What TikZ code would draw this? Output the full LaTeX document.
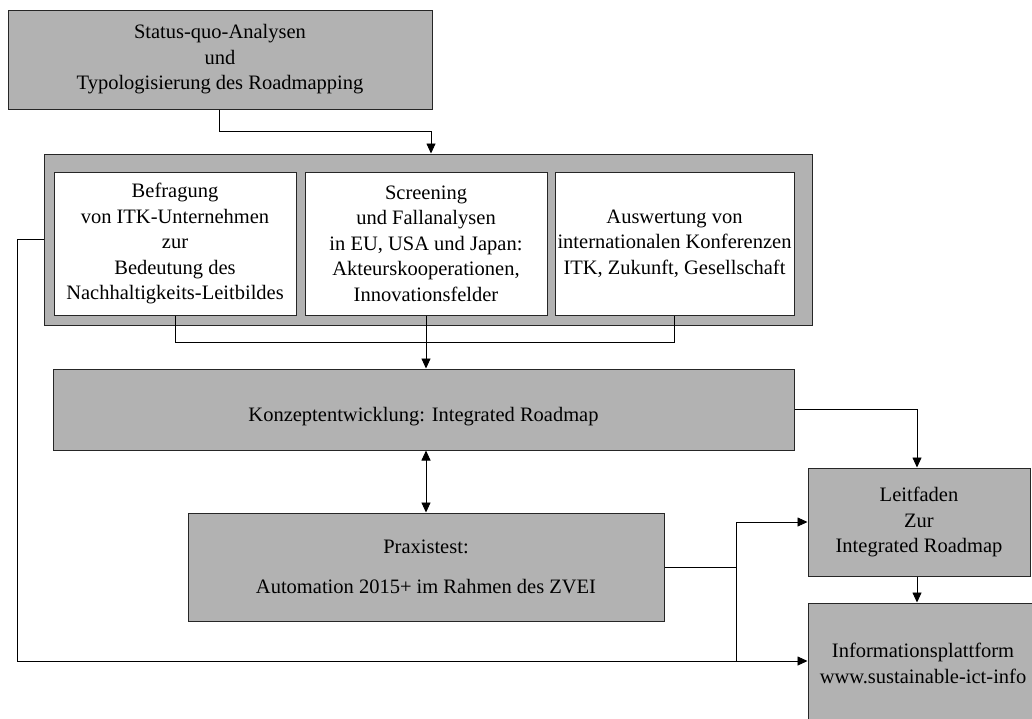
\documentclass[tikz,border=0pt]{standalone}
\usepackage{fontspec}
\setmainfont{Liberation Serif}
\usetikzlibrary{arrows.meta}
\definecolor{boxgray}{RGB}{178,178,178}
\begin{document}
\begin{tikzpicture}[x=1pt,y=-1pt,
  box/.style={draw=black!85, line width=1pt, fill=boxgray, align=center, inner sep=0pt,
    font=\fontsize{20.5}{25.5}\selectfont},
  wbox/.style={box, fill=white},
  conn/.style={draw=black, line width=0.9pt},
  arr/.style={conn, -{Triangle[length=10pt,width=9pt]}},
  darr/.style={conn, {Triangle[length=10pt,width=9pt]}-{Triangle[length=10pt,width=9pt]}}]
\useasboundingbox (0,0) rectangle (1032,718);
\clip (0,0) rectangle (1032,718);
\fill[white] (0,0) rectangle (1032,718);

\node[box, minimum width=424pt, minimum height=99pt] (top) at (220,59.5)
  {Status-quo-Analysen\\und\\Typologisierung des Roadmapping};
\node[box, minimum width=768pt, minimum height=171pt] (outer) at (428,239.5) {};
\node[wbox, minimum width=242pt, minimum height=143pt] (w1) at (175,243.5)
  {Befragung\\von ITK-Unternehmen\\zur\\Bedeutung des\\Nachhaltigkeits-Leitbildes};
\node[wbox, minimum width=242pt, minimum height=143pt] (w2) at (426,243.5)
  {Screening\\und Fallanalysen\\in EU, USA und Japan:\\Akteurskooperationen,\\Innovationsfelder};
\node[wbox, minimum width=239pt, minimum height=143pt] (w3) at (674.5,243.5)
  {Auswertung von\\internationalen Konferenzen\\ITK, Zukunft, Gesellschaft};
\node[box, minimum width=741pt, minimum height=81pt] (konz) at (423.5,409.5)
  {\rule{0pt}{28pt}Konzeptentwicklung: Integrated Roadmap};
\node[box, minimum width=476pt, minimum height=108pt] (prax) at (426,567)
  {Praxistest:\\[14.5pt]Automation 2015+ im Rahmen des ZVEI};
\node[box, minimum width=222pt, minimum height=108pt] (leit) at (919,522)
  {Leitfaden\\Zur\\Integrated Roadmap};
\node[box, minimum width=230pt, minimum height=116pt] (info) at (923,661)
  {\rule{0pt}{19pt}Informationsplattform\\www.sustainable-ict-info};

\coordinate (j) at (736,567);

\draw[arr] ([xshift=-1pt]top.south) -- ++(0,22) -| ([xshift=3pt]outer.north);
\draw[conn] (w1.south) -- ++(0,27) -| (w3.south);
\draw[arr] (w2.south) -- (w2.south |- konz.north);
\draw[darr] (konz.south -| prax.north) -- (prax.north);
\draw[arr] (konz.east) -| ([xshift=-2pt]leit.north);
\draw[arr] ([xshift=-2pt]leit.south) -- ([xshift=-2pt]leit.south |- info.north);
\draw[conn] (prax.east) -- (j);
\draw[arr] (j) |- (leit.west);
\draw[arr] (j) |- (info.west);
\draw[conn] (outer.west) -- ++(-26,0) |- (j |- info.west);
\end{tikzpicture}
\end{document}
